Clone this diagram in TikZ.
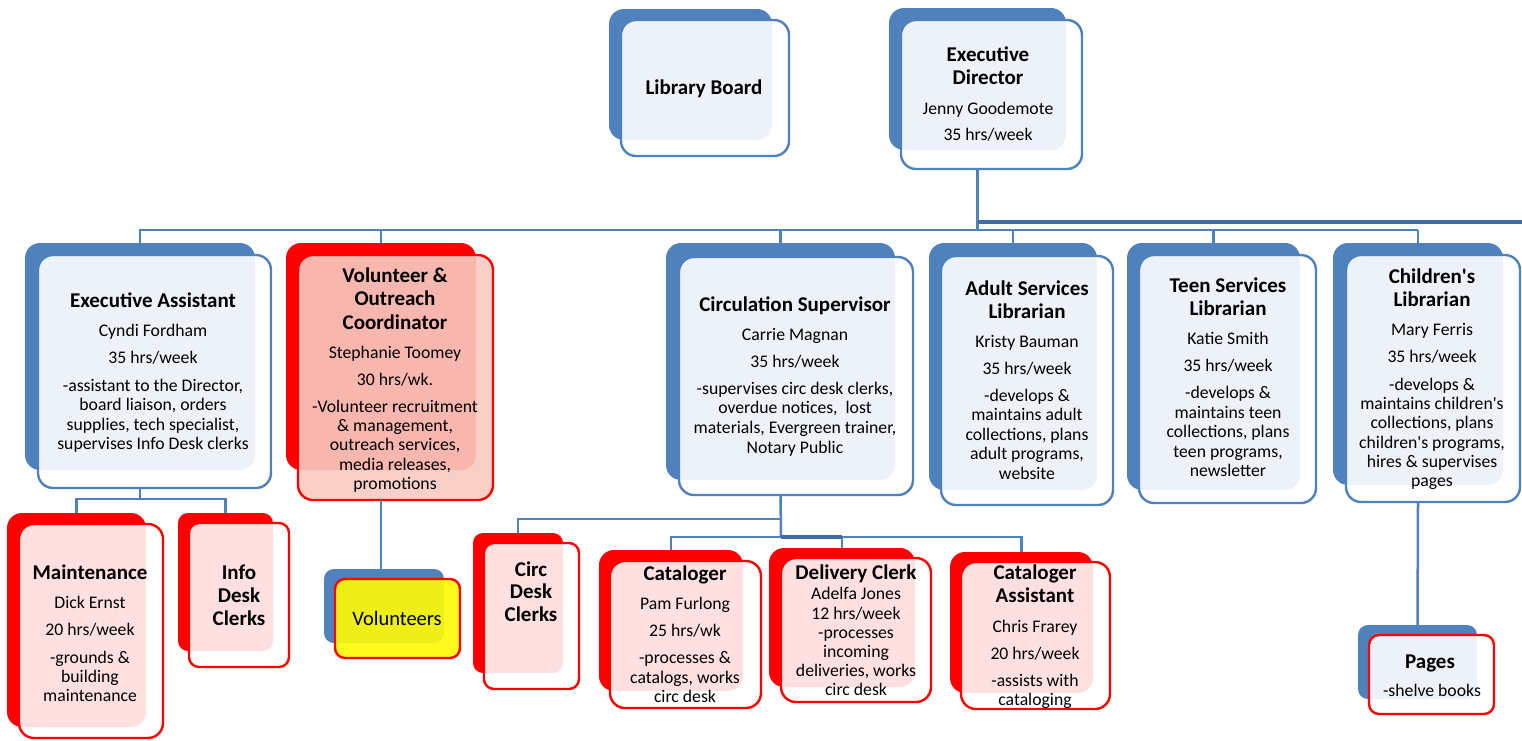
\documentclass[tikz,border=0pt]{standalone}
\usepackage{fontspec}
\setmainfont{Carlito}
\definecolor{cblue}{RGB}{79,129,189}
\definecolor{cbus}{RGB}{64,108,164}
\definecolor{cred}{RGB}{255,0,0}
\definecolor{csalmon}{RGB}{248,203,194}
\definecolor{cyel}{RGB}{255,250,9}
\newcommand\orgbox[6]{\pgfmathsetmacro\obw{#5-#3}\pgfmathsetmacro\obh{#6-#4}%
  \node[#1,minimum width=\obw pt,minimum height=\obh pt,anchor=north west] (#2) at (#3,#4) {};}
\begin{document}
\begin{tikzpicture}[x=1pt,y=-1pt,
  bx/.style={shape=rectangle,inner sep=0pt,outer sep=0pt,rounded corners=15pt},
  backb/.style={bx,fill=cblue,draw=none},
  backr/.style={bx,fill=cred,draw=none},
  frontb/.style={bx,draw=cblue,line width=2.4pt,fill=white,fill opacity=0.9},
  frontr/.style={bx,draw=cred,line width=2.4pt,fill=white,fill opacity=0.88},
  fronts/.style={bx,draw=cred,line width=2.4pt,fill=csalmon,fill opacity=0.9},
  fronty/.style={bx,draw=cred,line width=2.4pt,fill=cyel,fill opacity=0.915,rounded corners=10pt},
  frontp/.style={bx,draw=cred,line width=2.4pt,fill=white,fill opacity=0.9,rounded corners=10pt},
  smallb/.style={rounded corners=10pt},
  conn/.style={draw=cblue,line width=2.5pt},
  busthick/.style={draw=cbus,line width=3.6pt},
  ttl/.style={anchor=base,inner sep=0pt,font=\fontsize{21}{23}\selectfont\bfseries},
  bdy/.style={anchor=base,inner sep=0pt,font=\fontsize{17.7}{19.5}\selectfont}
]
\useasboundingbox (0,0) rectangle (1522,740);
\fill[white] (0,0) rectangle (1522,740);

% ---------- boxes (back, then front) ----------
\orgbox{backb}{lb-b}{609}{9}{772}{140}
\orgbox{frontb}{lb-f}{621}{20}{789}{156}
\orgbox{backb}{ed-b}{889}{8}{1066}{150}
\orgbox{frontb}{ed-f}{901}{20}{1082}{169}

\coordinate (busL) at (139,230);
\coordinate (busE) at (1522,222);
\coordinate (eaj) at (140,499);
\coordinate (csj1) at (781,519);
\coordinate (csj2) at (781,537);

\orgbox{backb}{ea-b}{25}{243}{255}{470}
\orgbox{frontb}{ea-f}{38}{255}{271}{488}
\orgbox{backr}{vo-b}{286}{243}{476}{470}
\orgbox{fronts}{vo-f}{298}{255}{493}{500}
\orgbox{backb}{cs-b}{666}{243}{895}{480}
\orgbox{frontb}{cs-f}{679}{257}{913}{495}
\orgbox{backb}{as-b}{929}{243}{1097}{490}
\orgbox{frontb}{as-f}{941}{256}{1113}{505}
\orgbox{backb}{ts-b}{1127}{243}{1300}{490}
\orgbox{frontb}{ts-f}{1139}{255}{1316}{503}
\orgbox{backb}{ch-b}{1333}{243}{1503}{485}
\orgbox{frontb}{ch-f}{1346}{255}{1520}{502}

\orgbox{backr}{mt-b}{7}{513}{146}{727}
\orgbox{frontr}{mt-f}{19}{524}{163}{738}
\orgbox{backr,smallb}{id-b}{178}{513}{273}{651}
\orgbox{frontr,smallb}{id-f}{189}{523}{289}{667}
\orgbox{backb,smallb}{vl-b}{324}{569}{444}{643}
\orgbox{fronty}{vl-f}{335}{579}{460}{658}
\orgbox{backr,smallb}{cd-b}{473}{533}{563}{673}
\orgbox{frontr,smallb}{cd-f}{484}{543}{579}{689}
\orgbox{backr}{ca-b}{599}{550}{743}{691}
\orgbox{frontr}{ca-f}{610}{561}{761}{708}
\orgbox{backr}{dc-b}{769}{548}{915}{687}
\orgbox{frontr}{dc-f}{781}{558}{931}{702}
\orgbox{backr}{cat-b}{950}{552}{1093}{693}
\orgbox{frontr}{cat-f}{961}{562}{1110}{709}
\orgbox{backb,smallb}{pg-b}{1358}{625}{1477}{699}
\orgbox{frontp}{pg-f}{1369}{635}{1494}{714}

% ---------- connectors ----------
\draw[conn] (ed-b.south |- ed-f.south) -- (ed-b.south |- busL);
\draw[busthick] (ed-b.south |- busE) -- (busE);
\draw[conn] (busL) -- (ch-b.north |- busL);
\foreach \n in {ea,vo,cs,as,ts,ch} \draw[conn] (\n-b.north |- busL) -- (\n-b.north);
\draw[conn] (ea-b.south |- ea-f.south) -- (ea-b.south |- eaj);
\draw[conn] (mt-b.north) -- (mt-b.north |- eaj) -- (id-b.north |- eaj) -- (id-b.north);
\draw[conn] (vo-b.south |- vo-f.south) -- (vo-b.south |- vl-b.north);
\draw[conn] (cs-b.south |- cs-f.south) -- (csj2);
\draw[conn] (cd-b.north) -- (cd-b.north |- csj1) -- (csj1);
\draw[conn] (ca-b.north) -- (ca-b.north |- csj2) -- (cat-b.north |- csj2) -- (cat-b.north);
\draw[conn] (dc-b.north |- csj2) -- (dc-b.north);
\draw[busthick] (csj2) -- (dc-b.north |- csj2);
\draw[conn] (ch-b.south |- ch-f.south) -- (pg-b.north);

% ---------- texts ----------
\node[ttl] (lb-t1) at (704,94) {Library Board};

\foreach[count=\i] \ty/\tx in {54/Executive,77/Director} \node[ttl] (ed-t\i) at (988,\ty+7) {\tx};
\foreach[count=\i] \ty/\tx in {108/{Jenny Goodemote},134/{35 hrs/week}} \node[bdy] (ed-n\i) at (988,\ty+6) {\tx};

\node[ttl] (ea-t1) at (153,307) {Executive Assistant};
\foreach[count=\i] \ty/\tx in {330/{Cyndi Fordham},357/{35 hrs/week},385/{-assistant to the Director,},404/{board liaison, orders},424/{supplies, tech specialist,},443/{supervises Info Desk clerks}}
  \node[bdy] (ea-n\i) at (153,\ty+6) {\tx};

\foreach[count=\i] \ty/\tx in {275/{Volunteer \&},298/Outreach,322/Coordinator} \node[ttl] (vo-t\i) at (395,\ty+7) {\tx};
\foreach[count=\i] \ty/\tx in {352/{Stephanie Toomey},379/{30 hrs/wk.},406/{-Volunteer recruitment},425/{\& management,},444/{outreach services,},464/{media releases,},483/promotions}
  \node[bdy] (vo-n\i) at (395,\ty+6) {\tx};

\node[ttl] (cs-t1) at (795,311) {Circulation Supervisor};
\foreach[count=\i] \ty/\tx in {334/{Carrie Magnan},361/{35 hrs/week},388/{-supervises circ desk clerks,},407/{overdue notices,\ \ lost},427/{materials, Evergreen trainer,},447/{Notary Public}}
  \node[bdy] (cs-n\i) at (795,\ty+6) {\tx};

\foreach[count=\i] \ty/\tx in {288/{Adult Services},311/Librarian} \node[ttl] (as-t\i) at (1027,\ty+7) {\tx};
\foreach[count=\i] \ty/\tx in {341/{Kristy Bauman},368/{35 hrs/week},395/{-develops \&},414/{maintains adult},434/{collections, plans},453/{adult programs,},473/website}
  \node[bdy] (as-n\i) at (1027,\ty+6) {\tx};

\foreach[count=\i] \ty/\tx in {285/{Teen Services},308/Librarian} \node[ttl] (ts-t\i) at (1228,\ty+7) {\tx};
\foreach[count=\i] \ty/\tx in {338/{Katie Smith},365/{35 hrs/week},392/{-develops \&},412/{maintains teen},431/{collections, plans},451/{teen programs,},470/newsletter}
  \node[bdy] (ts-n\i) at (1228,\ty+6) {\tx};

\foreach[count=\i] \ty/\tx in {276/{Children\textquotesingle s},299/Librarian} \node[ttl] (ch-t\i) at (1432,\ty+7) {\tx};
\foreach[count=\i] \ty/\tx in {329/{Mary Ferris},356/{35 hrs/week},384/{-develops \&},403/{maintains children\textquotesingle s},422/{collections, plans},442/{children\textquotesingle s programs,},461/{hires \& supervises},480/pages}
  \node[bdy] (ch-n\i) at (1432,\ty+6) {\tx};

\node[ttl] (mt-t1) at (90,579) {Maintenance};
\foreach[count=\i] \ty/\tx in {602/{Dick Ernst},629/{20 hrs/week},657/{-grounds \&},676/building,695/maintenance}
  \node[bdy] (mt-n\i) at (90,\ty+6) {\tx};

\foreach[count=\i] \ty/\tx in {572/Info,595/Desk,618/Clerks} \node[ttl] (id-t\i) at (239,\ty+7) {\tx};

\node[bdy,font=\fontsize{20.5}{22}\selectfont] (vl-t1) at (397,625) {Volunteers};

\foreach[count=\i] \ty/\tx in {569/Circ,591/Desk,614/Clerks} \node[ttl] (cd-t\i) at (531,\ty+7) {\tx};

\node[ttl] (ca-t1) at (685,580) {Cataloger};
\foreach[count=\i] \ty/\tx in {603/{Pam Furlong},630/{25 hrs/wk},657/{-processes \&},677/{catalogs, works},696/{circ desk}}
  \node[bdy] (ca-n\i) at (685,\ty+6) {\tx};

\node[ttl] (dc-t1) at (856,579) {Delivery Clerk};
\foreach[count=\i] \ty/\tx in {593/{Adelfa Jones},613/{12 hrs/week},632/-processes,651/incoming,670/{deliveries, works},689/{circ desk}}
  \node[bdy] (dc-n\i) at (856,\ty+6) {\tx};

\foreach[count=\i] \ty/\tx in {572/Cataloger,595/Assistant} \node[ttl] (cat-t\i) at (1035,\ty+7) {\tx};
\foreach[count=\i] \ty/\tx in {626/{Chris Frarey},653/{20 hrs/week},680/{-assists with},699/cataloging}
  \node[bdy] (cat-n\i) at (1035,\ty+6) {\tx};

\node[ttl] (pg-t1) at (1430,668) {Pages};
\node[bdy] (pg-n1) at (1432,696) {-shelve books};
\end{tikzpicture}
\end{document}
